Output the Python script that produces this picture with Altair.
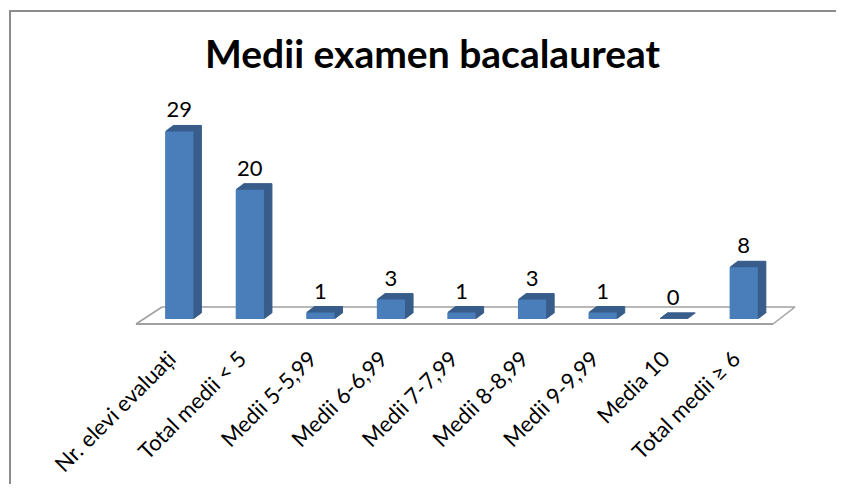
import altair as alt
import pandas as pd

categories = [
    "Nr. elevi evaluați",
    "Total medii < 5",
    "Medii 5-5,99",
    "Medii 6-6,99",
    "Medii 7-7,99",
    "Medii 8-8,99",
    "Medii 9-9,99",
    "Media 10",
    "Total medii ≥ 6",
]
values = [29, 20, 1, 3, 1, 3, 1, 0, 8]
title_text = ["Medii examen bacalaureat"]

df = pd.DataFrame({"cat": categories, "val": values})

FONT = "Lato"
FRONT = "#4A7EBB"
SIDE = "#385D8A"
FLOOR = "#A0A0A0"
FRAME = "#8C8C8C"

W, H = 635, 194

x_enc = alt.X(
    "cat:N",
    sort=categories,
    scale=alt.Scale(paddingInner=0.6, paddingOuter=0.3),
    axis=alt.Axis(
        title=None,
        labelAngle=315,
        labelAlign="right",
        labelBaseline="alphabetic",
        labelPadding=41,
        labelOffset=-2,
        labelFont=FONT,
        labelFontSize=22,
        labelColor="#000000",
        domain=False,
        ticks=False,
        tickSize=0,
        grid=False,
        labelOverlap=False,
        labelLimit=400,
    ),
)
y_enc = alt.Y("val:Q", scale=alt.Scale(domain=[0, 30], nice=False, zero=True), axis=None)

one = pd.DataFrame({"k": [0]})


def seg(x1, y1, x2, y2, color, width):
    return alt.Chart(one).mark_rule(color=color, strokeWidth=width).encode(
        x=alt.value(x1), y=alt.value(y1), x2=alt.value(x2), y2=alt.value(y2)
    )


# outer frame of the chart box: only its left and top edges fall on the page
frame = [
    seg(-134, -115, -134, 360, FRAME, 2),
    seg(-135, -114, 692, -114, FRAME, 2),
]

# floor plane of the 3-D chart
floor = [
    seg(18, 182, 651, 182, FLOOR, 1.5),
    seg(-8, 199, 18, 182, FLOOR, 1.5),
    seg(629, 199, 651, 182, FLOOR, 1.5),
    seg(-8, 199, 629, 199, FLOOR, 2),
]

base = alt.Chart(df)

depth = []
for k in range(1, 9):
    depth.append(
        base.mark_bar(
            color=SIDE, stroke=SIDE, strokeWidth=1, xOffset=k, yOffset=-0.75 * k
        ).encode(x=x_enc, y=y_enc)
    )

front = base.mark_bar(color=FRONT).encode(x=x_enc, y=y_enc)

labels = base.mark_text(
    dy=-14, baseline="alphabetic", font=FONT, fontSize=22, color="#000000"
).encode(x=x_enc, y=y_enc, text="val:Q")

title = alt.Chart(pd.DataFrame({"t": title_text})).mark_text(
    font=FONT, fontSize=39, fontWeight="bold", color="#000000",
    align="center", baseline="alphabetic",
).encode(x=alt.value(288.5), y=alt.value(-57), text="t:N")

chart = (
    alt.layer(*frame, *floor, *depth, front, labels, title)
    .properties(
        width=W,
        height=H,
        background="#FFFFFF",
        autosize=alt.AutoSizeParams(type="none"),
        padding={"left": 136, "top": 117, "right": 58, "bottom": 165},
    )
    .configure_view(strokeWidth=0, stroke=None)
)

chart.save("out.html", embed_options={"renderer": "svg", "actions": False})
